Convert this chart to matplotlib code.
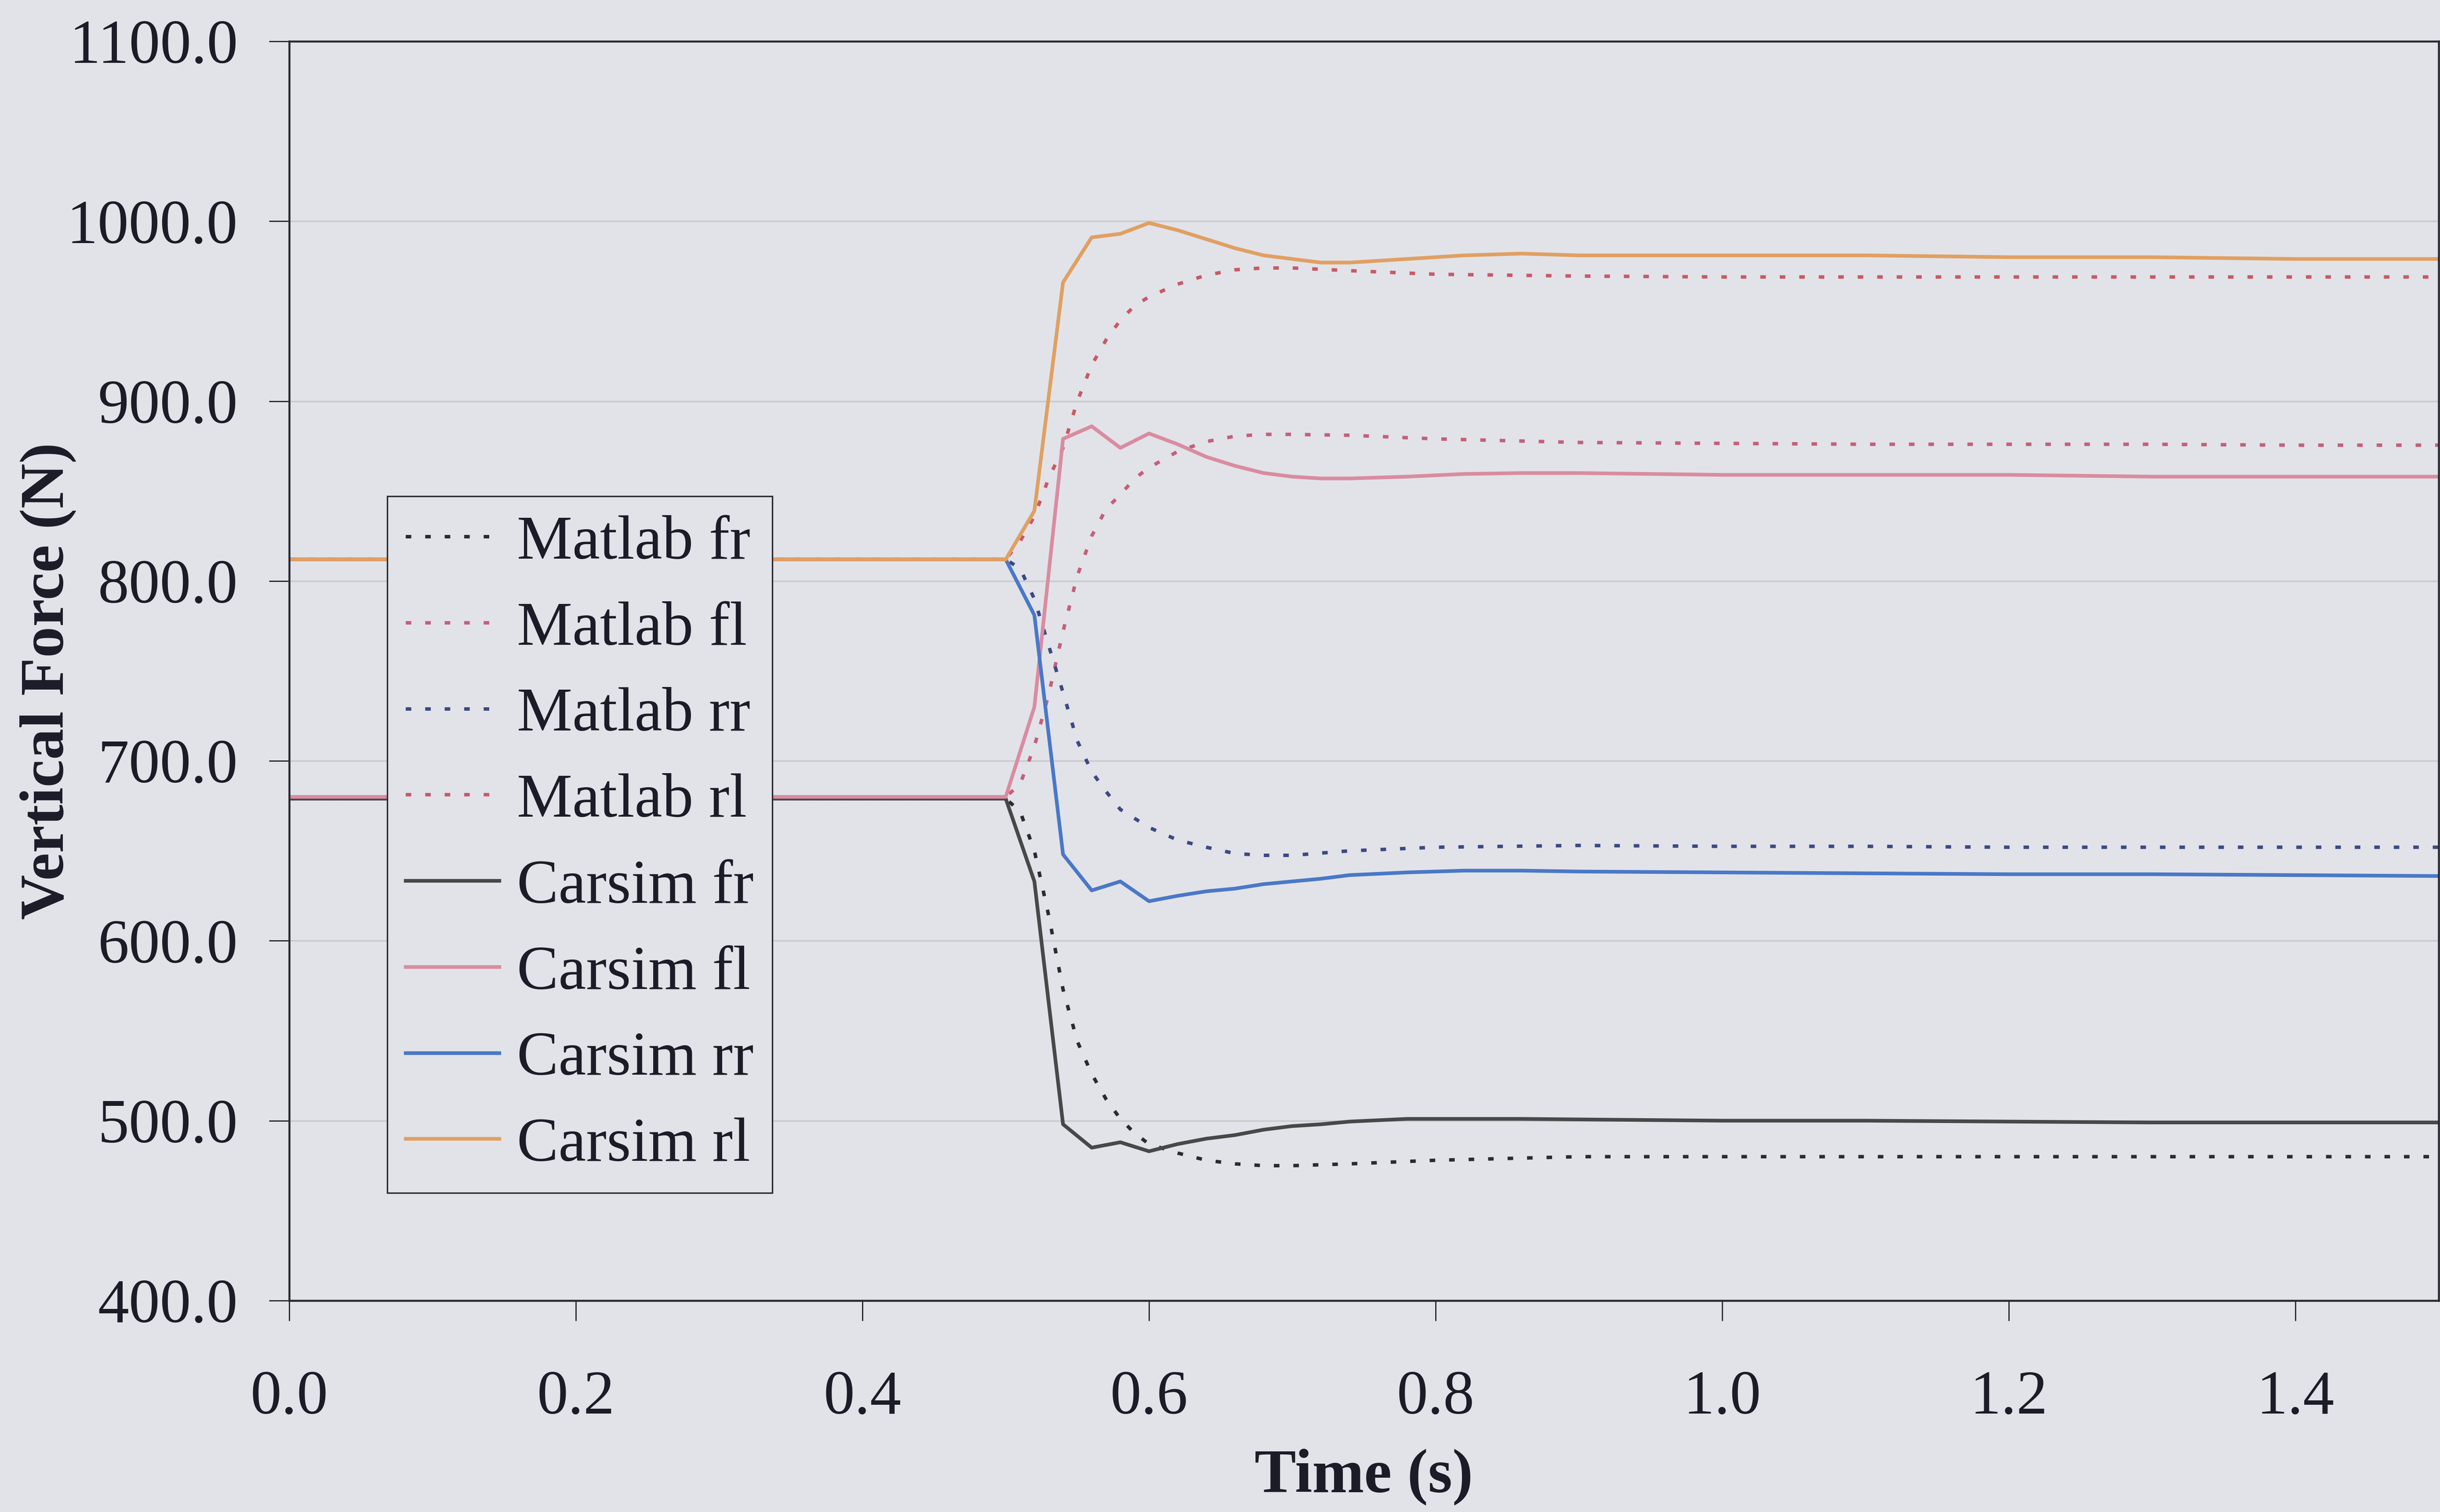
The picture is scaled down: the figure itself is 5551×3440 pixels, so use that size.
import matplotlib
matplotlib.use("Agg")
import matplotlib.pyplot as plt
import numpy as np

# ---------------- data ----------------
t_carsim = [0.0, 0.50, 0.52, 0.54, 0.56, 0.58, 0.60, 0.62, 0.64, 0.66, 0.68, 0.70,
            0.72, 0.74, 0.78, 0.82, 0.86, 0.90, 1.0, 1.1, 1.2, 1.3, 1.4, 1.5]
carsim_fr = [679, 679, 633, 498, 485, 488, 483, 487, 490, 492, 495, 497,
             498, 499.5, 501, 501, 501, 500.7, 500, 500, 499.5, 499, 499, 499]
carsim_fl = [680, 680, 730, 879, 886, 874, 882, 876, 869, 864, 860, 858,
             857, 857, 858, 859.5, 860, 860, 859, 859, 859, 858, 858, 858]
carsim_rr = [812, 812, 781, 648, 628, 633, 622, 625, 627.5, 629, 631.5, 633,
             634.5, 636.5, 638, 639, 639, 638.5, 638, 637.5, 637, 637, 636.5, 636]
carsim_rl = [812, 812, 839, 966, 991, 993, 999, 995, 990, 985, 981, 979,
             977, 977, 979, 981, 982, 981, 981, 981, 980, 980, 979, 979]

t_matlab = [0.0, 0.50, 0.51, 0.52, 0.53, 0.54, 0.55, 0.56, 0.57, 0.58, 0.59, 0.60,
            0.62, 0.64, 0.66, 0.68, 0.70, 0.74, 0.80, 0.90, 1.0, 1.1, 1.2, 1.3, 1.4, 1.5]
matlab_fr = [679, 679, 672, 650, 614, 573, 544, 526, 512, 501, 493, 487,
             482, 478, 476, 475, 475, 476, 478, 480, 480, 480, 480, 480, 480, 480]
matlab_fl = [680, 680, 687, 708, 737, 772, 803, 825, 840, 848, 857, 863,
             872, 877.5, 880.5, 881.5, 881.5, 881, 879, 877, 876.5, 876, 876, 876, 875.5, 875.5]
matlab_rr = [812, 812, 807, 790, 764, 738, 711, 694, 683, 673, 668, 663,
             656, 652, 648.5, 647.5, 647.5, 650, 652, 653, 652.5, 652.5, 652, 652, 652, 652]
matlab_rl = [812, 812, 822, 836, 857, 874, 900, 920, 934, 945, 953, 958,
             965, 970, 973, 974, 974, 972.5, 970.5, 969.5, 969, 969, 969, 969, 969, 969]

x_ticks = [0.0, 0.2, 0.4, 0.6, 0.8, 1.0, 1.2, 1.4]
y_ticks = [400, 500, 600, 700, 800, 900, 1000, 1100]

# ---------------- style ----------------
plt.rcParams['font.family'] = ['Liberation Serif', 'DejaVu Serif']
BG = '#e2e3e9'
TXT = '#1c1c28'
FS = 34

fig = plt.figure(figsize=(5551 / 300, 3440 / 300), dpi=300, facecolor=BG)
ax = fig.add_axes([0.11854, 0.13983, 0.88092, 0.83285], facecolor=BG)

dot = (0, (1.6, 4.0))
lw_d = 1.9
lw_s = 2.0
ax.plot(t_matlab, matlab_fr, color='#2a2a35', lw=lw_d, ls=dot, label='Matlab fr')
ax.plot(t_matlab, matlab_fl, color='#c4607a', lw=lw_d, ls=dot, label='Matlab fl')
ax.plot(t_matlab, matlab_rr, color='#3c4a82', lw=lw_d, ls=dot, label='Matlab rr')
ax.plot(t_matlab, matlab_rl, color='#c85a66', lw=lw_d, ls=dot, label='Matlab rl')
ax.plot(t_carsim, carsim_fr, color='#484848', lw=lw_s, label='Carsim fr')
ax.plot(t_carsim, carsim_fl, color='#d98ca0', lw=lw_s, label='Carsim fl')
ax.plot(t_carsim, carsim_rr, color='#4a78c8', lw=lw_s, label='Carsim rr')
ax.plot(t_carsim, carsim_rl, color='#e0a062', lw=lw_s, label='Carsim rl')

ax.set_xlim(0, 1.5)
ax.set_ylim(400, 1100)
ax.set_xticks(x_ticks)
ax.set_yticks(y_ticks)
ax.set_xticklabels([f"{v:.1f}" for v in x_ticks])
ax.set_yticklabels([f"{v:.1f}" for v in y_ticks])
ax.grid(axis='y', color='#c9c9cf', lw=0.8)
ax.set_axisbelow(True)

for s in ax.spines.values():
    s.set_color('#2a2a32')
    s.set_linewidth(1.1)

ax.tick_params(axis='both', direction='out', length=11, width=0.7,
               color='#2a2a32', labelsize=FS, labelcolor=TXT)
ax.tick_params(axis='y', pad=17)
ax.tick_params(axis='x', pad=27)

ax.set_xlabel('Time (s)', fontsize=FS, fontweight='bold', color=TXT, labelpad=12)
ax.set_ylabel('Vertical Force (N)', fontsize=FS, fontweight='bold', color=TXT)
ax.yaxis.set_label_coords(-0.099, 0.492)

leg = ax.legend(loc='upper left', bbox_to_anchor=(0.0456, 0.6387), borderaxespad=0,
                fontsize=FS, frameon=True, fancybox=False, framealpha=1,
                facecolor=BG, edgecolor='#2a2a32', handlelength=1.5,
                handletextpad=0.28, labelspacing=0.47, borderpad=0.3)
leg.get_frame().set_linewidth(0.8)
for txt in leg.get_texts():
    txt.set_color(TXT)

fig.savefig('out.png', dpi=300, facecolor=BG)
